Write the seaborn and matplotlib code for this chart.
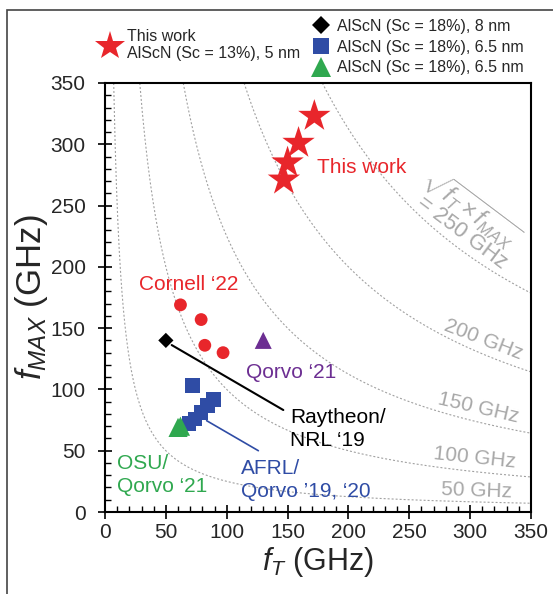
import numpy as np
import pandas as pd
import matplotlib.pyplot as plt
from matplotlib.lines import Line2D
from matplotlib.patches import Rectangle
import seaborn as sns

# data (fT, fMAX in GHz)
this_work_ft = [172, 159, 150, 147]
this_work_fmax = [323, 301, 285, 271]
cornell_ft = [62, 79, 82, 97]
cornell_fmax = [169, 157, 136, 130]
raytheon_ft = [50]
raytheon_fmax = [140]
qorvo21_ft = [130]
qorvo21_fmax = [140]
afrl_ft = [72, 89, 84, 79, 74, 69]
afrl_fmax = [103, 92, 87, 81, 76, 72]
osu_ft = [60, 62]
osu_fmax = [69, 70]
iso_levels = [50, 100, 150, 200, 250]

red = '#E8262B'
blue = '#2F4CA5'
green = '#2FA84F'
purple = '#6C2E92'
gray = '#A8A8A8'

sns.set_theme(style='white')
plt.rcParams['font.family'] = ['Liberation Sans', 'DejaVu Sans']
plt.rcParams['mathtext.fontset'] = 'custom'
plt.rcParams['mathtext.rm'] = 'Liberation Sans'
plt.rcParams['mathtext.it'] = 'Liberation Sans:italic'
plt.rcParams['mathtext.bf'] = 'Liberation Sans:bold'

fig = plt.figure(figsize=(5.53, 5.94), dpi=100)
ax = fig.add_axes([105 / 553, 1 - 512 / 594, 426 / 553, 429 / 594])

# iso-product curves sqrt(fT*fMAX) = const
for lev in iso_levels:
    ft = np.linspace(lev ** 2 / 350, 350, 300)
    sns.lineplot(x=ft, y=lev ** 2 / ft, ax=ax, color='#a0a0a0', lw=0.8,
                 dashes=False, linestyle=(0, (1.8, 1.8)), sort=False)

groups = [
    (this_work_ft, this_work_fmax, '*', red, 600),
    (cornell_ft, cornell_fmax, 'o', red, 85),
    (raytheon_ft, raytheon_fmax, 'D', 'black', 60),
    (qorvo21_ft, qorvo21_fmax, '^', purple, 150),
    (afrl_ft, afrl_fmax, 's', blue, 110),
    (osu_ft, osu_fmax, '^', green, 190),
]
for xs, ys, m, c, s in groups:
    df = pd.DataFrame({'ft': xs, 'fmax': ys})
    sns.scatterplot(data=df, x='ft', y='fmax', marker=m, color=c, s=s,
                    edgecolor='none', linewidth=0, ax=ax, zorder=3)

# leader lines
ax.annotate('', xy=(54.8, 136.2), xytext=(146.5, 83.2),
            arrowprops=dict(arrowstyle='-', color='black', lw=1.5, shrinkA=0, shrinkB=0))
ax.annotate('', xy=(83.5, 74.5), xytext=(126, 50),
            arrowprops=dict(arrowstyle='-', color=blue, lw=1.2, shrinkA=0, shrinkB=0))

fs = 15
ax.text(174, 281, 'This work', color=red, fontsize=fs, va='center')
ax.text(28, 186, 'Cornell \u201822', color=red, fontsize=fs, va='center')
ax.text(116, 114, 'Qorvo \u201821', color=purple, fontsize=fs, va='center')
ax.text(152, 68, 'Raytheon/\nNRL \u201819', color='black', fontsize=fs, va='center', linespacing=1.25)
ax.text(112, 26, 'AFRL/\nQorvo \u201919, \u201820', color=blue, fontsize=fs, va='center', linespacing=1.25)
ax.text(9.5, 30, 'OSU/\nQorvo \u201821', color=green, fontsize=fs, va='center', linespacing=1.25)

ax.text(305, 17, '50 GHz', color=gray, fontsize=fs, ha='center', va='center', rotation=-2)
ax.text(304, 44, '100 GHz', color=gray, fontsize=fs, ha='center', va='center', rotation=-6)
ax.text(307, 85, '150 GHz', color=gray, fontsize=fs, ha='center', va='center', rotation=-13)
ax.text(311, 141, '200 GHz', color=gray, fontsize=fs, ha='center', va='center', rotation=-21)
ax.text(301, 247, '$\\sqrt{f_T \\times f_{MAX}}$', color=gray, fontsize=17,
        ha='center', va='center', rotation=-37)
ax.text(293, 228, '= 250 GHz', color=gray, fontsize=16,
        ha='center', va='center', rotation=-37)

ax.set_xlim(0, 350)
ax.set_ylim(0, 350)
ax.set_xticks(range(0, 351, 50))
ax.set_yticks(range(0, 351, 50))
ax.set_xticks(range(0, 351, 10), minor=True)
ax.set_yticks(range(0, 351, 10), minor=True)
ax.tick_params(which='major', direction='inout', length=10, width=1.2, color='black',
               labelsize=15, bottom=True, left=True)
ax.tick_params(axis='x', which='major', pad=3)
ax.tick_params(axis='y', which='major', pad=9)
ax.tick_params(which='minor', direction='in', length=4, width=1.0, color='black',
               bottom=True, left=True)
for sp in ax.spines.values():
    sp.set_color('black')
    sp.set_linewidth(1.5)

ax.set_xlabel('$f_T$ (GHz)', fontsize=22, labelpad=2)
ax.set_ylabel('$f_{MAX}$ (GHz)', fontsize=25, labelpad=0)

# legends above the axes
lfs = 11.5
h_star = Line2D([], [], marker='*', color=red, ls='none', markersize=22, markeredgewidth=0)
leg1 = ax.legend([h_star], ['This work\nAlScN (Sc = 13%), 5 nm'], loc='upper left',
                 bbox_to_anchor=(96 / 553, 1 - 29 / 594), bbox_transform=fig.transFigure,
                 frameon=False, fontsize=lfs, handlelength=1.8, handletextpad=0.12,
                 borderpad=0, borderaxespad=0)
leg1.get_texts()[0].set_linespacing(1.19)
ax.add_artist(leg1)
h_d = Line2D([], [], marker='D', color='black', ls='none', markersize=9, markeredgewidth=0)
h_s = Line2D([], [], marker='s', color=blue, ls='none', markersize=12, markeredgewidth=0)
h_t = Line2D([], [], marker='^', color=green, ls='none', markersize=14, markeredgewidth=0)
ax.legend([h_d, h_s, h_t], ['AlScN (Sc = 18%), 8 nm', 'AlScN (Sc = 18%), 6.5 nm',
                            'AlScN (Sc = 18%), 6.5 nm'],
          loc='upper left', bbox_to_anchor=(310.5 / 553, 1 - 19 / 594),
          bbox_transform=fig.transFigure, frameon=False, fontsize=lfs,
          handlelength=1.3, handletextpad=0.38, labelspacing=0.35,
          borderpad=0, borderaxespad=0)

# outer frame (left and top edges visible)
fig.patches.append(Rectangle((7 / 553, -0.2), 1.2, 1 - 10 / 594 + 0.2, transform=fig.transFigure,
                             fill=False, ec='#444444', lw=1.2))

fig.savefig('out.png', dpi=100)
